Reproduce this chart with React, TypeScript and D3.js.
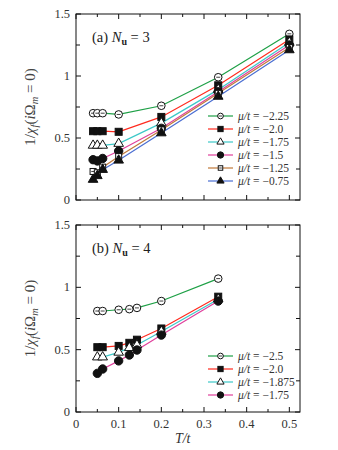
import React, { useEffect, useRef } from 'react';
import * as d3 from 'd3';

// panel (a): N_u = 3
const tA = [0.04, 0.05, 0.0625, 0.1, 0.2, 1 / 3, 0.5];
const muA = ['−2.25', '−2.0', '−1.75', '−1.5', '−1.25', '−0.75'];
const chiA225 = [0.70, 0.70, 0.70, 0.69, 0.76, 0.99, 1.34];
const chiA200 = [0.555, 0.555, 0.555, 0.55, 0.67, 0.925, 1.295];
const chiA175 = [0.44, 0.44, 0.44, 0.455, 0.62, 0.89, 1.27];
const chiA150 = [0.325, 0.315, 0.335, 0.395, 0.578, 0.873, 1.25];
const chiA125 = [0.23, 0.22, 0.265, 0.35, 0.565, 0.86, 1.23];
const chiA075 = [0.165, 0.195, 0.245, 0.32, 0.54, 0.835, 1.21];

// panel (b): N_u = 4
const tB = [0.05, 0.0625, 0.1, 0.125, 1 / 7, 0.2, 1 / 3];
const muB = ['−2.5', '−2.0', '−1.875', '−1.75'];
const chiB250 = [0.81, 0.81, 0.82, 0.825, 0.835, 0.89, 1.07];
const chiB200 = [0.52, 0.52, 0.53, 0.555, 0.58, 0.67, 0.925];
const chiB1875 = [0.44, 0.44, 0.478, 0.515, 0.537, 0.645, 0.905];
const chiB175 = [0.31, 0.345, 0.41, 0.457, 0.497, 0.617, 0.89];

const xTickLabels = [0, 0.1, 0.2, 0.3, 0.4, 0.5];
const yTickLabels = [0, 0.5, 1, 1.5];

const colors = ['#1ea046', '#ff2a1e', '#3cc8c8', '#e0409c', '#c0783a', '#4a6ed2'];
const markers = ['circleOpen', 'squareFill', 'triangleOpen', 'circleFill', 'squareOpen', 'triangleFill'];

const FONT = 'Liberation Serif, Times New Roman, serif';

function drawMarker(g, type, x, y, scale = 1) {
    if (type === 'circleOpen' || type === 'circleFill') {
        g.append('circle')
            .attr('cx', x).attr('cy', y)
            .attr('r', (type === 'circleFill' ? 4.2 : 3.8) * scale)
            .attr('fill', type === 'circleFill' ? '#111' : '#fff')
            .attr('stroke', '#111').attr('stroke-width', 1);
        if (type === 'circleOpen') {
            g.append('line').attr('x1', x - 2 * scale).attr('x2', x + 2 * scale).attr('y1', y).attr('y2', y)
                .attr('stroke', '#111').attr('stroke-width', 0.8);
        }
    } else if (type === 'squareFill' || type === 'squareOpen') {
        const s = (type === 'squareFill' ? 7 : 6) * scale;
        g.append('rect')
            .attr('x', x - s / 2).attr('y', y - s / 2)
            .attr('width', s).attr('height', s)
            .attr('fill', type === 'squareFill' ? '#111' : '#fff')
            .attr('stroke', '#111').attr('stroke-width', 1);
        if (type === 'squareOpen') {
            g.append('line').attr('x1', x - 1.8 * scale).attr('x2', x + 1.8 * scale).attr('y1', y).attr('y2', y)
                .attr('stroke', '#111').attr('stroke-width', 0.8);
        }
    } else {
        const sym = d3.symbol().type(d3.symbolTriangle).size(40 * scale * scale);
        g.append('path')
            .attr('d', sym())
            .attr('transform', `translate(${x},${y})`)
            .attr('fill', type === 'triangleFill' ? '#111' : '#fff')
            .attr('stroke', '#111').attr('stroke-width', 1);
    }
}

function muLabel(g, x, y, value) {
    const txt = g.append('text')
        .attr('x', x).attr('y', y)
        .attr('font-family', FONT).attr('font-size', 11.5)
        .attr('fill', '#333');
    txt.append('tspan').attr('font-style', 'italic').text('μ/t');
    txt.append('tspan').text(` = ${value}`);
}

const App = () => {
    const svgRef = useRef(null);

    useEffect(() => {
        const svg = d3.select(svgRef.current);
        svg.selectAll('*').remove();

        const left = 76;
        const right = 300;

        const x = d3.scaleLinear().domain([0, 0.525]).range([left, right]);

        const panels = [
            {
                top: 14, bottom: 200, label: '(a) ', nu: '3', t: tA, mu: muA,
                series: [chiA225, chiA200, chiA175, chiA150, chiA125, chiA075],
                legendTop: 116, showX: false,
            },
            {
                top: 225, bottom: 412, label: '(b) ', nu: '4', t: tB, mu: muB,
                series: [chiB250, chiB200, chiB1875, chiB175],
                legendTop: 356, showX: true,
            },
        ];

        panels.forEach(p => {
            const y = d3.scaleLinear().domain([0, 1.5]).range([p.bottom, p.top]);
            const g = svg.append('g');

            // frame
            g.append('rect')
                .attr('x', left).attr('y', p.top)
                .attr('width', right - left).attr('height', p.bottom - p.top)
                .attr('fill', 'none').attr('stroke', '#111').attr('stroke-width', 1);

            // x ticks (every 0.05, mirrored)
            d3.range(0, 11).map(i => i * 0.05).forEach((v, i) => {
                const len = i % 2 === 0 ? 5 : 3;
                g.append('line').attr('x1', x(v)).attr('x2', x(v))
                    .attr('y1', p.bottom).attr('y2', p.bottom - len)
                    .attr('stroke', '#111');
                g.append('line').attr('x1', x(v)).attr('x2', x(v))
                    .attr('y1', p.top).attr('y2', p.top + len)
                    .attr('stroke', '#111');
            });

            // y ticks (every 0.25, mirrored)
            d3.range(0, 7).map(i => i * 0.25).forEach((v, i) => {
                const len = i % 2 === 0 ? 5 : 4;
                g.append('line').attr('x1', left).attr('x2', left + len)
                    .attr('y1', y(v)).attr('y2', y(v)).attr('stroke', '#111');
                g.append('line').attr('x1', right).attr('x2', right - len)
                    .attr('y1', y(v)).attr('y2', y(v)).attr('stroke', '#111');
            });

            yTickLabels.forEach(v => {
                g.append('text')
                    .attr('x', left - 6).attr('y', y(v) + 4)
                    .attr('text-anchor', 'end')
                    .attr('font-family', FONT).attr('font-size', 12.5)
                    .attr('fill', '#333')
                    .text(String(v));
            });

            if (p.showX) {
                xTickLabels.forEach(v => {
                    g.append('text')
                        .attr('x', x(v)).attr('y', p.bottom + 16)
                        .attr('text-anchor', 'middle')
                        .attr('font-family', FONT).attr('font-size', 12.5)
                        .attr('fill', '#333')
                        .text(String(v));
                });
                g.append('text')
                    .attr('x', x(0.25)).attr('y', p.bottom + 31)
                    .attr('text-anchor', 'middle')
                    .attr('font-family', FONT).attr('font-size', 14)
                    .attr('font-style', 'italic')
                    .attr('fill', '#333')
                    .text('T/t');
            }

            // y label
            const cy = (p.top + p.bottom) / 2;
            const yl = g.append('text')
                .attr('transform', `translate(35,${cy}) rotate(-90)`)
                .attr('text-anchor', 'middle')
                .attr('font-family', FONT).attr('font-size', 15)
                .attr('fill', '#444');
            yl.append('tspan').text('1/');
            yl.append('tspan').attr('font-style', 'italic').text('χ');
            yl.append('tspan').attr('font-style', 'italic').attr('font-size', 10.5).attr('dy', 3).text('f');
            yl.append('tspan').attr('dy', -3).text('(');
            yl.append('tspan').attr('font-style', 'italic').text('i');
            yl.append('tspan').text('Ω');
            yl.append('tspan').attr('font-style', 'italic').attr('font-size', 10.5).attr('dy', 3).text('m');
            yl.append('tspan').attr('dy', -3).text(' = 0)');

            // panel label
            const pl = g.append('text')
                .attr('x', left + 16).attr('y', p.top + 28)
                .attr('font-family', FONT).attr('font-size', 14.5)
                .attr('fill', '#222');
            pl.append('tspan').text(p.label);
            pl.append('tspan').attr('font-style', 'italic').text('N');
            pl.append('tspan').attr('font-weight', 'bold').attr('font-size', 10).attr('dy', 3).text('u');
            pl.append('tspan').attr('dy', -3).text(` = ${p.nu}`);

            const line = d3.line()
                .x((d, i) => x(p.t[i]))
                .y(d => y(d));

            p.series.forEach((s, k) => {
                g.append('path')
                    .datum(s)
                    .attr('fill', 'none')
                    .attr('stroke', colors[k])
                    .attr('stroke-width', 1.2)
                    .attr('d', line);
            });
            p.series.forEach((s, k) => {
                s.forEach((v, i) => drawMarker(g, markers[k], x(p.t[i]), y(v)));
            });

            // legend
            p.mu.forEach((m, k) => {
                const ly = p.legendTop + k * 13;
                g.append('line')
                    .attr('x1', 208).attr('x2', 233)
                    .attr('y1', ly).attr('y2', ly)
                    .attr('stroke', colors[k]).attr('stroke-width', 1.2);
                drawMarker(g, markers[k], 220.5, ly, 0.75);
                muLabel(g, 238, ly + 4, m);
            });
        });
    }, []);

    return (
        <svg ref={svgRef} width={338} height={450}
            style={{ position: 'absolute', left: 0, top: 0, background: '#fff' }} />
    );
};

export default App;
